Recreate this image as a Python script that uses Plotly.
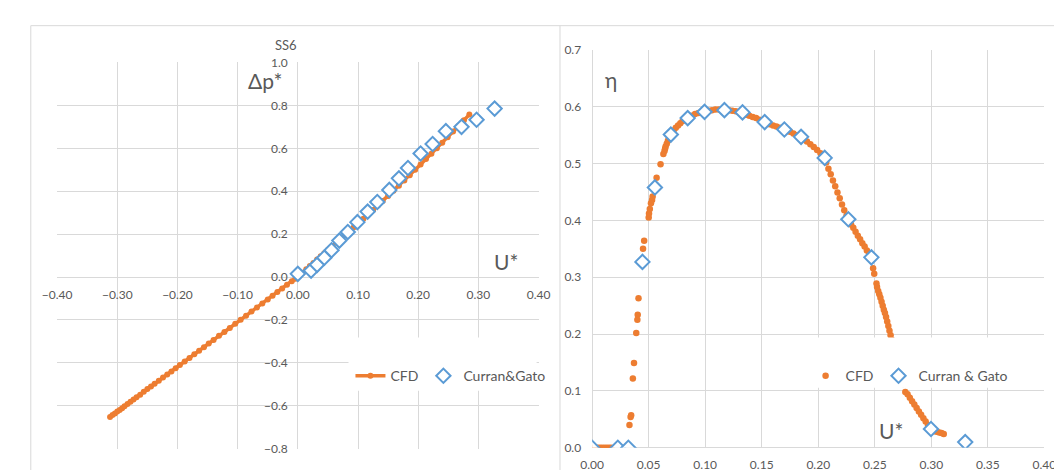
import plotly.graph_objects as go

W, H = 1062, 470

# ---------------- data: left panel (pressure coefficient) ----------------
cfd_dp_u = [-0.312, -0.308, -0.304, -0.300, -0.296, -0.292, -0.288, -0.283, -0.278, -0.273,
            -0.268, -0.262, -0.256, -0.250, -0.244, -0.238, -0.231, -0.224, -0.217, -0.210,
            -0.203, -0.196, -0.188, -0.180, -0.172, -0.164, -0.156, -0.148, -0.140, -0.131,
            -0.122, -0.113, -0.104, -0.095, -0.086, -0.077, -0.068, -0.059, -0.050, -0.042,
            -0.034, -0.026, -0.018, -0.010, -0.004, 0.002, 0.008, 0.014, 0.020, 0.026,
            0.032, 0.038, 0.044, 0.050, 0.057, 0.064, 0.071, 0.078, 0.085, 0.093,
            0.101, 0.109, 0.117, 0.125, 0.133, 0.141, 0.150, 0.159, 0.168, 0.177,
            0.186, 0.195, 0.204, 0.213, 0.222, 0.231, 0.240, 0.249, 0.258, 0.267,
            0.276, 0.285]
cfd_dp = [-0.652, -0.643, -0.636, -0.627, -0.619, -0.611, -0.602, -0.591, -0.581, -0.570,
          -0.560, -0.548, -0.535, -0.522, -0.510, -0.497, -0.483, -0.468, -0.454, -0.440,
          -0.425, -0.410, -0.393, -0.377, -0.360, -0.343, -0.327, -0.310, -0.293, -0.274,
          -0.256, -0.237, -0.218, -0.199, -0.180, -0.161, -0.142, -0.123, -0.104, -0.087,
          -0.070, -0.053, -0.036, -0.020, -0.008, 0.005, 0.020, 0.036, 0.052, 0.066,
          0.082, 0.097, 0.111, 0.126, 0.143, 0.161, 0.178, 0.195, 0.212, 0.232,
          0.252, 0.272, 0.293, 0.313, 0.334, 0.355, 0.378, 0.402, 0.426, 0.450,
          0.475, 0.500, 0.525, 0.550, 0.575, 0.600, 0.626, 0.652, 0.678, 0.704,
          0.731, 0.757]

exp_u = [0.000, 0.022, 0.032, 0.044, 0.056, 0.069, 0.083, 0.099, 0.116, 0.132,
         0.152, 0.168, 0.183, 0.204, 0.224, 0.246, 0.272, 0.297, 0.327]
exp_dp = [0.015, 0.030, 0.057, 0.090, 0.125, 0.170, 0.210, 0.256, 0.305, 0.350,
          0.406, 0.460, 0.508, 0.576, 0.620, 0.680, 0.700, 0.733, 0.785]

# ---------------- data: right panel (efficiency) ----------------
cfd_eta_u = [0.001, 0.003, 0.005, 0.007, 0.009, 0.011, 0.013, 0.015, 0.017,
             0.033, 0.034, 0.0345, 0.036, 0.037, 0.039, 0.040, 0.0403, 0.041, 0.045, 0.046,
             0.050, 0.0503, 0.051, 0.052, 0.053, 0.0535, 0.057, 0.0605, 0.063, 0.064,
             0.0645, 0.065, 0.066, 0.067, 0.068,
             0.070, 0.072, 0.074, 0.076, 0.078, 0.080, 0.082, 0.085, 0.088, 0.091,
             0.094, 0.097, 0.100, 0.103, 0.106, 0.109, 0.112, 0.115, 0.118, 0.121,
             0.124, 0.127, 0.130, 0.133, 0.136, 0.139, 0.142, 0.145, 0.148, 0.151,
             0.154, 0.157, 0.160, 0.163, 0.166, 0.169, 0.172, 0.175, 0.178, 0.181,
             0.184, 0.187, 0.190, 0.193, 0.196, 0.199, 0.202, 0.205,
             0.207, 0.209, 0.211, 0.213, 0.215, 0.217, 0.219, 0.221, 0.223, 0.225,
             0.227, 0.229, 0.231, 0.233, 0.235, 0.237, 0.239, 0.241, 0.243, 0.245, 0.247,
             0.2485, 0.2495,
             0.2515, 0.252, 0.253, 0.254, 0.255, 0.256, 0.257, 0.258, 0.259, 0.260,
             0.261, 0.262, 0.263, 0.264,
             0.265, 0.267, 0.269, 0.271, 0.273, 0.275, 0.277,
             0.279, 0.281, 0.283, 0.285, 0.287, 0.289, 0.291, 0.293, 0.295, 0.297,
             0.299, 0.301, 0.303, 0.305, 0.307, 0.309, 0.311]
cfd_eta = [0.0, 0.0, 0.0, 0.0, 0.0, 0.0, 0.0, 0.0, 0.0,
           0.040, 0.054, 0.057, 0.122, 0.149, 0.202, 0.225, 0.234, 0.263, 0.350, 0.364,
           0.405, 0.412, 0.420, 0.430, 0.436, 0.442, 0.475, 0.499, 0.517, 0.522,
           0.526, 0.530, 0.535, 0.540, 0.545,
           0.552, 0.558, 0.563, 0.567, 0.571, 0.575, 0.578, 0.581, 0.584, 0.587,
           0.589, 0.591, 0.592, 0.593, 0.594, 0.595, 0.595, 0.595, 0.595, 0.594,
           0.593, 0.592, 0.590, 0.588, 0.586, 0.584, 0.582, 0.580, 0.577, 0.575,
           0.572, 0.569, 0.567, 0.565, 0.563, 0.561, 0.558, 0.556, 0.553, 0.550,
           0.547, 0.543, 0.539, 0.534, 0.529, 0.524, 0.518, 0.512,
           0.502, 0.491, 0.481, 0.470, 0.460, 0.449, 0.439, 0.428, 0.418, 0.408,
           0.400, 0.393, 0.387, 0.380, 0.373, 0.367, 0.360, 0.354, 0.347, 0.341, 0.333,
           0.316, 0.306,
           0.289, 0.283, 0.276, 0.270, 0.264, 0.257, 0.250, 0.243, 0.237, 0.230,
           0.222, 0.214, 0.206, 0.198,
           0.190, 0.175, 0.158, 0.142, 0.127, 0.112, 0.098,
           0.094, 0.088, 0.082, 0.076, 0.070, 0.064, 0.058, 0.052, 0.046, 0.040,
           0.035, 0.031, 0.029, 0.028, 0.027, 0.026, 0.024]

exp_eta_u = [0.000, 0.0227, 0.032, 0.0445, 0.0555, 0.0696, 0.0845, 0.0994, 0.117, 0.133,
             0.1526, 0.170, 0.1848, 0.2057, 0.2266, 0.247, 0.272, 0.2997, 0.330]
exp_eta = [0.000, 0.000, 0.000, 0.327, 0.458, 0.551, 0.580, 0.591, 0.594, 0.590,
           0.573, 0.560, 0.547, 0.510, 0.402, 0.335, 0.130, 0.033, 0.010]

# ---------------- styling ----------------
ORANGE = "#ED7D31"
BLUE = "#5B9BD5"
GRID = "#D9D9D9"
TXT = "#595959"
FONT = "Lato"


def px_x(p):
    return p / W


def px_y(p):
    return 1 - p / H


xL = [px_x(35), px_x(529)]
yL = [px_y(447), px_y(48)]
xR = [px_x(584), px_x(1048)]
yR = [px_y(446), px_y(35)]

yL_range = [-0.8, 1.0]
xL_range = [-0.4, 0.4]
xaxis_pos = yL[0] + (0 - yL_range[0]) / (yL_range[1] - yL_range[0]) * (yL[1] - yL[0])
yaxis_pos = xL[0] + (0 - xL_range[0]) / (xL_range[1] - xL_range[0]) * (xL[1] - xL[0])

fig = go.Figure()

fig.add_trace(go.Scatter(
    x=cfd_dp_u, y=cfd_dp, mode="lines+markers", name="CFD",
    line=dict(color=ORANGE, width=3.5), marker=dict(color=ORANGE, size=6),
    xaxis="x", yaxis="y", legend="legend"))
fig.add_trace(go.Scatter(
    x=exp_u, y=exp_dp, mode="markers", name="Curran&Gato",
    marker=dict(symbol="diamond", color="white", size=11, line=dict(width=2, color=BLUE)),
    xaxis="x", yaxis="y", legend="legend"))

fig.add_trace(go.Scatter(
    x=cfd_eta_u, y=cfd_eta, mode="markers", name="CFD",
    marker=dict(color=ORANGE, size=6.5),
    xaxis="x2", yaxis="y2", legend="legend2"))
fig.add_trace(go.Scatter(
    x=exp_eta_u, y=exp_eta, mode="markers", name="Curran & Gato",
    marker=dict(symbol="diamond", color="white", size=11, line=dict(width=2, color=BLUE)),
    xaxis="x2", yaxis="y2", legend="legend2"))

axis_common = dict(showgrid=True, gridcolor=GRID, gridwidth=1, zeroline=True,
                   zerolinecolor=GRID, zerolinewidth=1, showline=False, ticks="",
                   tickfont=dict(family=FONT, size=12, color=TXT), fixedrange=True)

fig.update_layout(
    width=W, height=H, margin=dict(l=0, r=0, t=0, b=0),
    paper_bgcolor="white", plot_bgcolor="rgba(0,0,0,0)",
    font=dict(family=FONT, color=TXT),
    xaxis=dict(domain=xL, range=xL_range, dtick=0.1, tick0=0, tickformat=".2f",
               anchor="free", position=xaxis_pos, ticklabelstandoff=9, **axis_common),
    yaxis=dict(domain=yL, range=yL_range, dtick=0.2, tick0=0, tickformat=".1f",
               anchor="free", position=yaxis_pos, ticklabelstandoff=10, **axis_common),
    xaxis2=dict(domain=xR, range=[0, 0.4], dtick=0.05, tick0=0, tickformat=".2f",
                anchor="y2", ticklabelstandoff=8, **axis_common),
    yaxis2=dict(domain=yR, range=[0, 0.7], dtick=0.1, tick0=0, tickformat=".1f",
                anchor="x2", ticklabelstandoff=10, **axis_common),
    legend=dict(x=px_x(336), y=px_y(372), xanchor="left", yanchor="middle",
                orientation="h", bgcolor="rgba(0,0,0,0)", itemwidth=30,
                font=dict(family=FONT, size=14, color=TXT)),
    legend2=dict(x=px_x(803), y=px_y(372), xanchor="left", yanchor="middle",
                 orientation="h", bgcolor="rgba(0,0,0,0)", itemwidth=30,
                 font=dict(family=FONT, size=14, color=TXT)),
    showlegend=True,
)

shapes = [
    # chart frames
    dict(type="line", xref="paper", yref="paper", x0=px_x(8), x1=px_x(8), y0=px_y(10), y1=0,
         line=dict(color=GRID, width=1), layer="below"),
    dict(type="line", xref="paper", yref="paper", x0=px_x(8), x1=1, y0=px_y(10), y1=px_y(10),
         line=dict(color=GRID, width=1), layer="below"),
    dict(type="line", xref="paper", yref="paper", x0=px_x(551), x1=px_x(551), y0=px_y(10), y1=0,
         line=dict(color=GRID, width=1), layer="below"),
    # legend backgrounds
    dict(type="rect", xref="paper", yref="paper", x0=px_x(334), x1=px_x(527),
         y0=px_y(387), y1=px_y(332), fillcolor="white", line=dict(width=0), layer="above"),
    dict(type="rect", xref="paper", yref="paper", x0=px_x(808), x1=px_x(998),
         y0=px_y(384), y1=px_y(332), fillcolor="white", line=dict(width=0), layer="above"),
]
fig.update_layout(shapes=shapes)

annots = [
    dict(text="SS6", x=px_x(270), y=px_y(30), size=13),
    dict(text="Δp*", x=px_x(248), y=px_y(67), size=21),
    dict(text="U*", x=px_x(496), y=px_y(254), size=21),
    dict(text="η", x=px_x(603), y=px_y(66), size=21),
    dict(text="U*", x=px_x(891), y=px_y(428), size=21),
]
for a in annots:
    fig.add_annotation(text=a["text"], x=a["x"], y=a["y"], xref="paper", yref="paper",
                       showarrow=False, xanchor="center", yanchor="middle",
                       font=dict(family=FONT, size=a["size"], color=TXT))

fig.write_html("out.html")
